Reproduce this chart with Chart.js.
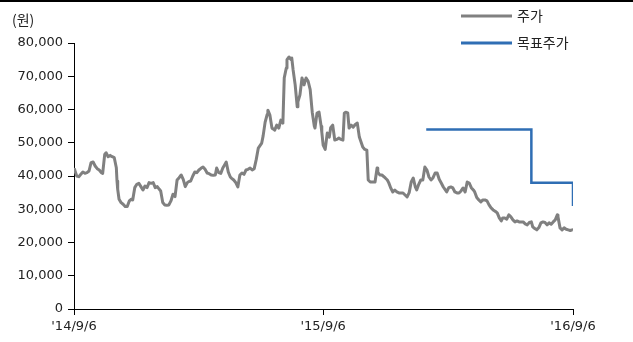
<!DOCTYPE html>
<html><head><meta charset="utf-8">
<script src="https://cdn.jsdelivr.net/npm/chart.js@4/dist/chart.umd.min.js"></script>
<style>html,body{margin:0;padding:0;background:#fff;}#wrap{position:relative;width:633px;height:342px;}</style>
</head><body><div id="wrap"><canvas id="c" width="633" height="342"></canvas></div>
<script>
// Day offsets from 2014-09-06
const days = [0,1,4,7,10,13,16,19,22,25,28,31,34,37,40,42,45,47,50,53,56,59,62,63,64,66,69,72,75,78,81,84,86,89,92,95,98,101,104,107,110,113,116,119,122,125,127,130,133,136,139,142,145,148,151,154,157,160,163,166,168,171,174,177,180,183,186,189,192,195,198,201,204,207,209,212,215,218,221,223,226,229,231,234,237,240,243,246,249,252,255,258,261,264,267,270,272,275,277,280,283,284,287,290,293,294,297,300,303,306,308,311,312,315,318,319,321,324,327,328,331,334,337,340,343,346,349,352,353,356,359,362,363,365,368,371,374,376,379,382,385,388,391,394,396,398,401,403,406,409,412,415,418,420,423,426,429,431,434,437,441,444,445,448,451,456,459,461,464,467,470,473,476,479,482,485,488,491,494,497,500,502,505,508,511,514,517,520,523,526,529,532,535,538,541,544,546,549,552,555,558,561,564,567,570,573,576,579,582,585,587,590,593,596,599,602,605,608,611,614,617,620,623,626,628,631,634,637,640,643,646,649,652,655,658,661,664,667,670,672,675,678,681,684,687,690,693,696,699,702,705,708,709,712,715,718,721,724,727,730,731];
const price = [42000,41800,40000,39800,40500,41200,40800,41000,41500,44000,44200,43000,42200,41800,41000,40800,46500,47000,45800,46200,45800,45500,42500,38500,36000,33000,32000,31500,30800,30800,32500,33000,32800,36500,37500,37800,36800,35800,37000,36500,38000,37800,38000,36500,36800,36000,35500,32000,31300,31200,31300,32500,34500,33800,38800,39500,40300,39000,36800,38000,38300,38500,40000,41200,41000,41800,42300,42700,42000,40900,40700,40300,40200,40300,42400,41000,40800,42400,43500,44200,41200,39700,39300,38800,38000,36700,40300,40900,40500,41800,42000,42400,41800,42200,45000,48400,49000,49900,52000,56200,58500,59800,58300,54400,54000,53800,55300,54400,56800,55900,69500,72500,75000,75800,75000,75500,71900,67400,60800,62300,64400,69500,67400,69500,68500,66000,59200,55000,54400,58900,59200,55000,53200,49300,48000,52900,51700,54500,55300,50800,51000,51400,51000,50800,58900,59200,59000,54400,55300,54700,55500,55900,51700,50500,48700,48000,47800,38800,38200,38200,38200,42400,41200,40300,40300,39400,38800,38000,36400,35200,35800,35200,34900,34900,34900,34300,33700,35000,38200,39400,36700,35800,37500,38800,38800,42700,41800,39700,38800,39500,40900,40900,39000,37900,36700,35800,35200,36500,36700,36400,35200,34900,34900,35500,36400,35200,38200,37900,36500,35800,35200,33500,32800,32200,32800,32800,32500,31300,30400,29800,29400,28900,27400,26500,27400,27400,27000,28300,27700,26800,26200,26500,26200,26200,26200,25600,25300,26000,26200,24700,24200,23800,24500,25900,26200,26000,25300,25900,25500,26200,26800,28300,27700,24400,23800,24400,24000,23800,23600,23800,23700];
const targetDays = [516, 670, 731, 731];
const targetPrice = [54000, 38000, 38000, 31000];
const xTickDays = [0, 365, 731];
const xTickLabels = ["'14/9/6", "'15/9/6", "'16/9/6"];
const seriesNames = ['주가', '목표주가'];
const unitLabel = '(원)';

const priceData = days.map((d, i) => ({x: d, y: price[i]}));
const targetData = targetDays.map((d, i) => ({x: d, y: targetPrice[i]}));

const deco = {
  id: 'deco',
  afterDraw(chart) {
    const ctx = chart.ctx;
    ctx.save();
    ctx.fillStyle = '#000';
    ctx.fillRect(0, 0, chart.width, 2);
    ctx.font = '14px "Noto Sans CJK KR"';
    ctx.fillStyle = '#222';
    ctx.textBaseline = 'middle';
    ctx.textAlign = 'left';
    ctx.fillText(unitLabel, 12, 20);
    chart.data.datasets.forEach((ds, i) => {
      const y = 16 + i * 27;
      ctx.strokeStyle = ds.borderColor;
      ctx.lineWidth = 3;
      ctx.beginPath();
      ctx.moveTo(461, y);
      ctx.lineTo(512, y);
      ctx.stroke();
      ctx.fillStyle = '#222';
      ctx.fillText(ds.label, 517, y);
    });
    ctx.restore();
  }
};

new Chart(document.getElementById('c'), {
  type: 'line',
  data: {
    datasets: [
      {label: seriesNames[0], data: priceData, borderColor: '#808080', borderWidth: 3, pointRadius: 0, tension: 0, borderJoinStyle: 'round', fill: false},
      {label: seriesNames[1], data: targetData, borderColor: '#2F6EB4', borderWidth: 2.5, pointRadius: 0, stepped: true, fill: false}
    ]
  },
  options: {
    responsive: false,
    animation: false,
    devicePixelRatio: 1,
    layout: {padding: {top: 43, right: 60, bottom: 0, left: 0}},
    plugins: {legend: {display: false}, tooltip: {enabled: false}},
    scales: {
      x: {
        type: 'linear', min: 0, max: 731,
        afterBuildTicks: (s) => { s.ticks = xTickDays.map(v => ({value: v})); },
        afterFit: (s) => { s.height = 33; },
        ticks: {
          autoSkip: false, maxRotation: 0, padding: 4,
          color: '#222', font: {family: 'DejaVu Sans', size: 13},
          callback: (v) => { const k = xTickDays.indexOf(v); return k >= 0 ? xTickLabels[k] : ''; }
        },
        grid: {display: true, drawOnChartArea: false, drawTicks: true, tickLength: 6, color: '#000'},
        border: {display: true, color: '#000', width: 1}
      },
      y: {
        min: 0, max: 80000,
        afterFit: (s) => { s.width = 74; },
        ticks: {
          stepSize: 10000, padding: 5, color: '#222',
          font: {family: 'DejaVu Sans', size: 13},
          callback: (v) => v.toLocaleString('en-US')
        },
        grid: {display: true, drawOnChartArea: false, drawTicks: true, tickLength: 6, color: '#000'},
        border: {display: true, color: '#000', width: 1}
      }
    }
  },
  plugins: [deco]
});
</script></body></html>
